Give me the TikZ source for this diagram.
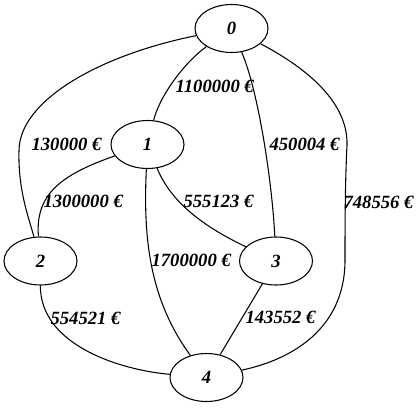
\documentclass[tikz,border=0pt]{standalone}
\usepackage{fontspec}
\setmainfont{Liberation Serif}
\usetikzlibrary{shapes.geometric}
\tikzset{
  vert/.style={draw,ellipse,minimum width=54.75pt,minimum height=36pt,inner sep=0pt,font=\fontsize{14pt}{16pt}\selectfont\bfseries\itshape},
  cost/.style={anchor=west,inner sep=0pt,font=\fontsize{14pt}{16pt}\selectfont\bfseries\itshape}
}
\begin{document}
\begin{tikzpicture}[x=0.75pt,y=-0.75pt,line width=0.8pt]
\useasboundingbox (0,0) rectangle (417,407);
\node[vert] (n0) at (231.5,28.5) {0};
\node[vert] (n1) at (147.5,144.5) {1};
\node[vert] (n2) at (40.5,261) {2};
\node[vert] (n3) at (276,261) {3};
\node[vert] (n4) at (206.5,377.5) {4};
\draw (n0) .. controls (185,62) and (160,95) .. (n1);
\draw (n0) .. controls (100,55) and (20,100) .. (19,150) .. controls (18,190) and (28,215) .. (n2);
\draw (n0) .. controls (258,90) and (272,180) .. (n3);
\draw (n0) .. controls (320,75) and (348,110) .. (347,145) .. controls (345,185) and (345,230) .. (345,260) .. controls (345,330) and (290,360) .. (n4);
\draw (n1) .. controls (60,175) and (35,195) .. (n2);
\draw (n1) .. controls (170,200) and (200,225) .. (n3);
\draw (n1) .. controls (143,240) and (150,300) .. (n4);
\draw (n2) .. controls (40,345) and (120,370) .. (n4);
\draw (n3) -- (n4);
\node[cost] (c01) at (175,86) {1100000 €};
\node[cost] (c02) at (31,144) {130000 €};
\node[cost] (c03) at (269,144) {450004 €};
\node[cost] (c04) at (343,202) {748556 €};
\node[cost] (c12) at (43,201) {1300000 €};
\node[cost] (c13) at (183,201) {555123 €};
\node[cost] (c14) at (151,260) {1700000 €};
\node[cost] (c24) at (50,318) {554521 €};
\node[cost] (c34) at (245,317) {143552 €};
\end{tikzpicture}
\end{document}
